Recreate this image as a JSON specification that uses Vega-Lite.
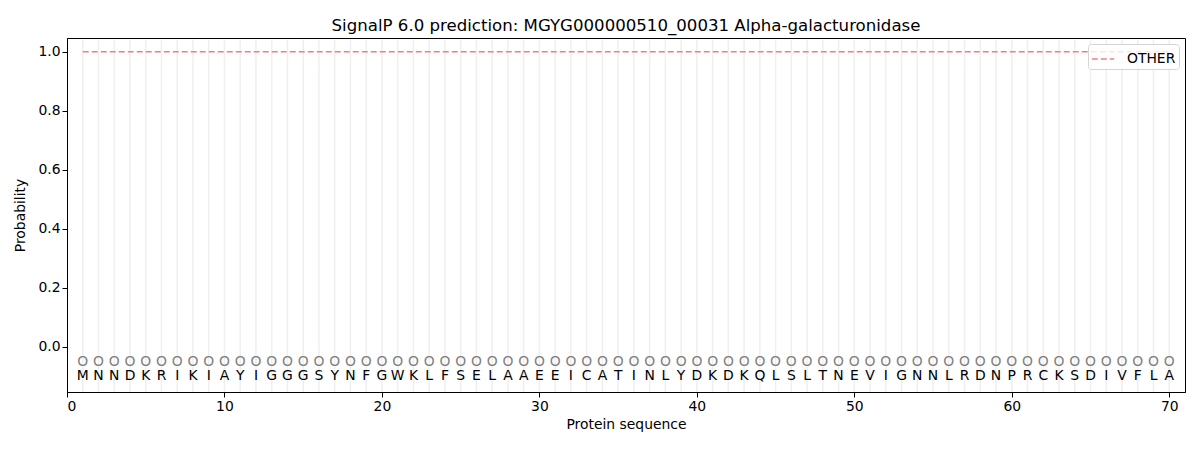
{
  "$schema": "https://vega.github.io/schema/vega-lite/v6.json",
  "width": 1118,
  "height": 354,
  "autosize": "none",
  "padding": {"left": 67, "top": 38, "right": 15, "bottom": 58},
  "background": "white",
  "title": {
    "text": "SignalP 6.0 prediction: MGYG000000510_00031 Alpha-galacturonidase",
    "fontSize": 16.6,
    "fontWeight": "normal",
    "font": "DejaVu Sans",
    "color": "black",
    "offset": 3
  },
  "config": {
    "font": "DejaVu Sans",
    "view": {"stroke": "black", "strokeWidth": 1},
    "axis": {
      "grid": false,
      "domainColor": "black",
      "tickColor": "black",
      "tickSize": 5,
      "labelFontSize": 13.9,
      "titleFontSize": 13.9,
      "labelColor": "black",
      "titleColor": "black",
      "titleFontWeight": "normal"
    }
  },
  "data": {
    "values": [
      {"pos": 1, "aa": "M", "other": 1.0}, {"pos": 2, "aa": "N", "other": 1.0}, {"pos": 3, "aa": "N", "other": 1.0}, {"pos": 4, "aa": "D", "other": 1.0}, {"pos": 5, "aa": "K", "other": 1.0},
      {"pos": 6, "aa": "R", "other": 1.0}, {"pos": 7, "aa": "I", "other": 1.0}, {"pos": 8, "aa": "K", "other": 1.0}, {"pos": 9, "aa": "I", "other": 1.0}, {"pos": 10, "aa": "A", "other": 1.0},
      {"pos": 11, "aa": "Y", "other": 1.0}, {"pos": 12, "aa": "I", "other": 1.0}, {"pos": 13, "aa": "G", "other": 1.0}, {"pos": 14, "aa": "G", "other": 1.0}, {"pos": 15, "aa": "G", "other": 1.0},
      {"pos": 16, "aa": "S", "other": 1.0}, {"pos": 17, "aa": "Y", "other": 1.0}, {"pos": 18, "aa": "N", "other": 1.0}, {"pos": 19, "aa": "F", "other": 1.0}, {"pos": 20, "aa": "G", "other": 1.0},
      {"pos": 21, "aa": "W", "other": 1.0}, {"pos": 22, "aa": "K", "other": 1.0}, {"pos": 23, "aa": "L", "other": 1.0}, {"pos": 24, "aa": "F", "other": 1.0}, {"pos": 25, "aa": "S", "other": 1.0},
      {"pos": 26, "aa": "E", "other": 1.0}, {"pos": 27, "aa": "L", "other": 1.0}, {"pos": 28, "aa": "A", "other": 1.0}, {"pos": 29, "aa": "A", "other": 1.0}, {"pos": 30, "aa": "E", "other": 1.0},
      {"pos": 31, "aa": "E", "other": 1.0}, {"pos": 32, "aa": "I", "other": 1.0}, {"pos": 33, "aa": "C", "other": 1.0}, {"pos": 34, "aa": "A", "other": 1.0}, {"pos": 35, "aa": "T", "other": 1.0},
      {"pos": 36, "aa": "I", "other": 1.0}, {"pos": 37, "aa": "N", "other": 1.0}, {"pos": 38, "aa": "L", "other": 1.0}, {"pos": 39, "aa": "Y", "other": 1.0}, {"pos": 40, "aa": "D", "other": 1.0},
      {"pos": 41, "aa": "K", "other": 1.0}, {"pos": 42, "aa": "D", "other": 1.0}, {"pos": 43, "aa": "K", "other": 1.0}, {"pos": 44, "aa": "Q", "other": 1.0}, {"pos": 45, "aa": "L", "other": 1.0},
      {"pos": 46, "aa": "S", "other": 1.0}, {"pos": 47, "aa": "L", "other": 1.0}, {"pos": 48, "aa": "T", "other": 1.0}, {"pos": 49, "aa": "N", "other": 1.0}, {"pos": 50, "aa": "E", "other": 1.0},
      {"pos": 51, "aa": "V", "other": 1.0}, {"pos": 52, "aa": "I", "other": 1.0}, {"pos": 53, "aa": "G", "other": 1.0}, {"pos": 54, "aa": "N", "other": 1.0}, {"pos": 55, "aa": "N", "other": 1.0},
      {"pos": 56, "aa": "L", "other": 1.0}, {"pos": 57, "aa": "R", "other": 1.0}, {"pos": 58, "aa": "D", "other": 1.0}, {"pos": 59, "aa": "N", "other": 1.0}, {"pos": 60, "aa": "P", "other": 1.0},
      {"pos": 61, "aa": "R", "other": 1.0}, {"pos": 62, "aa": "C", "other": 1.0}, {"pos": 63, "aa": "K", "other": 1.0}, {"pos": 64, "aa": "S", "other": 1.0}, {"pos": 65, "aa": "D", "other": 1.0},
      {"pos": 66, "aa": "I", "other": 1.0}, {"pos": 67, "aa": "V", "other": 1.0}, {"pos": 68, "aa": "F", "other": 1.0}, {"pos": 69, "aa": "L", "other": 1.0}, {"pos": 70, "aa": "A", "other": 1.0}
    ]
  },
  "encoding": {
    "x": {
      "field": "pos",
      "type": "quantitative",
      "title": "Protein sequence",
      "scale": {"domain": [0, 71], "nice": false, "zero": false},
      "axis": {"values": [0, 10, 20, 30, 40, 50, 60, 70], "titlePadding": 5}
    }
  },
  "layer": [
    {
      "mark": {"type": "rule", "color": "#efefef", "strokeWidth": 1.5},
      "encoding": {"y": {"datum": -0.153}, "y2": {"datum": 1.042}}
    },
    {
      "mark": {"type": "line", "strokeDash": [6, 3], "strokeWidth": 1.5},
      "encoding": {
        "y": {
          "field": "other",
          "type": "quantitative",
          "title": "Probability",
          "scale": {"domain": [-0.153, 1.047], "nice": false, "zero": false},
          "axis": {"values": [0, 0.2, 0.4, 0.6, 0.8, 1.0], "format": ".1f", "titlePadding": 10}
        },
        "color": {
          "datum": "OTHER",
          "type": "nominal",
          "scale": {"domain": ["OTHER"], "range": ["#f08080"]},
          "legend": {
            "title": null,
            "orient": "top-right",
            "offset": 6,
            "symbolType": "stroke",
            "symbolDash": [6, 3],
            "symbolStrokeWidth": 1.5,
            "symbolSize": 500,
            "labelOffset": 12,
            "labelFontSize": 13.9,
            "labelColor": "black",
            "fillColor": "rgba(255,255,255,0.8)",
            "strokeColor": "#d5d5d5",
            "cornerRadius": 3,
            "padding": 3
          }
        }
      }
    },
    {
      "mark": {"type": "text", "fontSize": 13.9, "color": "#808080", "baseline": "middle"},
      "encoding": {"y": {"datum": -0.05}, "text": {"value": "O"}}
    },
    {
      "mark": {"type": "text", "fontSize": 13.9, "color": "black", "baseline": "middle"},
      "encoding": {"y": {"datum": -0.1}, "text": {"field": "aa"}}
    }
  ]
}
